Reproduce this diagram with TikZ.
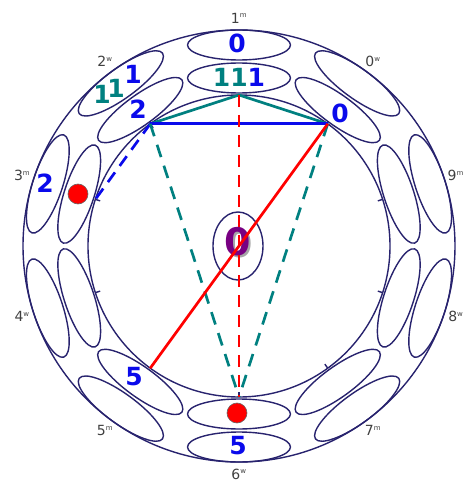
\documentclass[tikz,border=0pt]{standalone}
\usepackage{fontspec}
\setmainfont{DejaVu Sans}
\definecolor{ringblue}{RGB}{40,35,110}
\definecolor{numblue}{RGB}{10,10,235}
\definecolor{numteal}{RGB}{0,128,128}
\definecolor{numpurple}{RGB}{120,0,130}
\begin{document}
\begin{tikzpicture}[x=1pt, y=1pt,
    ring/.style={draw=ringblue, line width=1.4pt},
    digit/.style={font=\fontsize{25}{25}\selectfont\bfseries, text=numblue, inner sep=0pt},
    poslabel/.style={font=\fontsize{14}{14}\selectfont, text=black!75, inner sep=0pt},
    chord/.style={line width=2.7pt},
    longdash/.style={dash pattern=on 13pt off 9pt},
    dot/.style={circle, fill=red, draw=black!60, line width=0.6pt, minimum size=20pt, inner sep=0pt}]
    \useasboundingbox (-239,-236) rectangle (232,246);
    % two rings with ten positions
    \draw[ring] (0,0) circle (216);
    \draw[ring] (0,0) circle (151);
    \foreach \k in {0,...,9}{
        \pgfmathsetmacro{\a}{90+36*(\k-1)}
        \draw[ring, shift={(\a:201)}, rotate=\a-90] (0,0) ellipse (51.5 and 15);
        \draw[ring, shift={(\a:168)}, rotate=\a-90] (0,0) ellipse (51.5 and 15);
        \draw[ring] (\a:146) -- (\a:151);
        \coordinate (P\k) at (\a:151);
        \node[poslabel] (L\k) at (\a:228) {\k\textsuperscript{\fontsize{7}{7}\selectfont\ifodd\k m\else w\fi}};
    }
    % centre
    \draw[ring] (-1,0) ellipse (25 and 34);
    \node[font=\fontsize{38}{38}\selectfont\bfseries, text=black!35, inner sep=0pt] (C0s) at (1,2) {0};
    \node[font=\fontsize{38}{38}\selectfont\bfseries, text=numpurple, inner sep=0pt] (C0) at (-1,4) {0};
    % chords between positions
    \draw[chord, numteal] (P2) -- (P1) -- (P0);
    \draw[chord, numblue] (P2) -- (P0);
    \draw[chord, numblue, dash pattern=on 12pt off 8pt] (P2) -- (P3);
    \draw[chord, numteal, longdash] (P2) -- (P6);
    \draw[chord, numteal, longdash] (P0) -- (P6);
    \draw[chord, red, dash pattern=on 12pt off 8pt] (P1) -- (P6);
    \draw[chord, red] (P5) -- (P0);
    % contents of the ellipses
    \node[digit] (top0) at (-2,203) {0};
    \node[digit] (top111) at (0,169) {\textcolor{numteal}{11}1};
    \node[digit, text=numteal] (a1) at (-137,152) {1};
    \node[digit, text=numteal] (a2) at (-123,158) {1};
    \node[digit] (a3) at (-106,172) {1};
    \node[digit] (in2) at (-101,137) {2};
    \node[digit] (in0) at (101,133) {0};
    \node[digit] (out2) at (-194,63) {2};
    \node[dot] (d3) at (-161,52) {};
    \node[digit] (in5) at (-105,-131) {5};
    \node[dot] (d6) at (-2,-167) {};
    \node[digit] (out5) at (-1,-200) {5};
\end{tikzpicture}
\end{document}
